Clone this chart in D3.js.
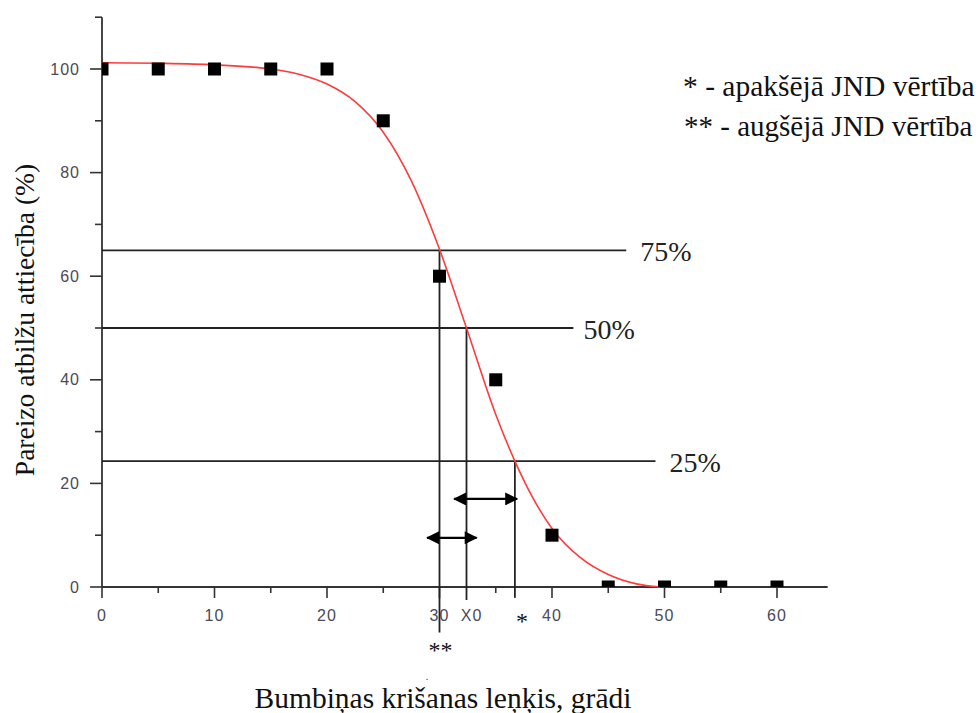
<!DOCTYPE html>
<html><head><meta charset="utf-8">
<script src="https://cdn.jsdelivr.net/npm/d3@7"></script>
<style>body{margin:0;background:#fff}svg{display:block}</style>
</head><body><svg id="c" width="979" height="713"></svg>
<script>
// measured points
const angles = [0, 5, 10, 15, 20, 25, 30, 35, 40, 45, 50, 55, 60];
const correct = [100, 100, 100, 100, 100, 90, 60, 40, 10, 0, 0, 0, 0];
// fitted curve
const fitX = [0, 5, 10, 15, 17.5, 20, 22.5, 25, 27.5, 30, 32.4, 35, 36.7, 38.3, 40, 42.5, 45, 47.5, 49.6];
const fitY = [101.2, 101.1, 100.8, 100.0, 99.0, 97.1, 93.7, 87.8, 78.4, 65.2, 50, 33.3, 24.3, 17.2, 11.3, 5.7, 2.4, 0.6, 0];
// tick labels
const xTickVals = [0, 10, 20, 30, 40, 50, 60];
const xTickLabels = ["0", "10", "20", "30", "40", "50", "60"];
const yTickVals = [0, 20, 40, 60, 80, 100];
// threshold annotations
const levelLabels = ["75%", "50%", "25%"];
const levelY = [65, 50, 24.3];
const levelEndX = [46.6, 41.9, 49.2];
const crossX = [30, 32.4, 36.7];
const crossBottom = [-8.8, -2.5, -2.1];
const arrowsY = [17, 9.5];
const arrowsFrom = [31.3, 28.9];
const arrowsTo = [36.9, 33.3];
const legendLines = ["* - apak\u0161\u0113j\u0101 JND v\u0113rt\u012Bba", "** - aug\u0161\u0113j\u0101 JND v\u0113rt\u012Bba"];
const xTitle = "Bumbi\u0146as kri\u0161anas le\u0146\u0137is, gr\u0101di";
const yTitle = "Pareizo atbil\u017Eu attiec\u012Bba (%)";

const svg = d3.select("#c");
const x = d3.scaleLinear().domain([0, 60]).range([102, 777]);
const y = d3.scaleLinear().domain([0, 100]).range([587, 69]);
const xMax = 64.5, yMax = 110;
const axisColor = "#333";
const serif = "Liberation Serif";
const sans = "Liberation Sans";

svg.append("defs").append("clipPath").attr("id", "plot")
  .append("rect").attr("x", x(0)).attr("y", y(yMax)).attr("width", x(xMax) - x(0)).attr("height", y(0) - y(yMax));
const m = svg.append("defs").append("marker").attr("id", "ah")
  .attr("viewBox", "0 0 12 12").attr("refX", 11).attr("refY", 6)
  .attr("markerWidth", 14).attr("markerHeight", 13).attr("markerUnits", "userSpaceOnUse")
  .attr("orient", "auto-start-reverse");
m.append("path").attr("d", "M0,0L12,6L0,12Z").attr("fill", "#000");

// axes
const yAxisG = svg.append("g").attr("transform", `translate(${x(0)},0)`);
yAxisG.append("line").attr("y1", y(yMax)).attr("y2", y(0)).attr("stroke", axisColor).attr("stroke-width", 1.8);
const yMinor = d3.range(10, 111, 20);
yAxisG.selectAll(".ymin").data(yMinor).join("line")
  .attr("x1", -7).attr("x2", 0).attr("y1", d => y(d)).attr("y2", d => y(d)).attr("stroke", axisColor).attr("stroke-width", 1.6);
yAxisG.selectAll(".ymaj").data(yTickVals).join("line")
  .attr("x1", -12).attr("x2", 0).attr("y1", d => y(d)).attr("y2", d => y(d)).attr("stroke", axisColor).attr("stroke-width", 1.6);
yAxisG.selectAll(".ylab").data(yTickVals).join("text")
  .attr("x", -22).attr("y", d => y(d)).attr("dy", "0.35em").attr("text-anchor", "end")
  .attr("font-family", sans).attr("font-size", 16).attr("letter-spacing", 1).attr("fill", "#4a4a58").text(d => d);

const xAxisG = svg.append("g").attr("transform", `translate(0,${y(0)})`);
xAxisG.append("line").attr("x1", x(0)).attr("x2", x(xMax)).attr("stroke", axisColor).attr("stroke-width", 1.8);
const xMinor = d3.range(5, 61, 10);
xAxisG.selectAll(".xmin").data(xMinor).join("line")
  .attr("x1", d => x(d)).attr("x2", d => x(d)).attr("y1", 0).attr("y2", 6).attr("stroke", axisColor).attr("stroke-width", 1.6);
xAxisG.selectAll(".xmaj").data(xTickVals).join("line")
  .attr("x1", d => x(d)).attr("x2", d => x(d)).attr("y1", 0).attr("y2", 11).attr("stroke", axisColor).attr("stroke-width", 1.6);
xAxisG.selectAll(".xlab").data(xTickVals).join("text")
  .attr("x", d => x(d)).attr("y", 34).attr("text-anchor", "middle")
  .attr("font-family", sans).attr("font-size", 16).attr("letter-spacing", 1).attr("fill", "#4a4a58").text((d, i) => xTickLabels[i]);
xAxisG.append("text").attr("x", x(32.4) + 5).attr("y", 34).attr("text-anchor", "middle")
  .attr("font-family", sans).attr("font-size", 16).attr("letter-spacing", 1).attr("fill", "#4a4a58").text("X0");

// threshold lines
const labelOffsets = [14, 10, 14];
levelY.forEach((lv, i) => {
  svg.append("line").attr("x1", x(0)).attr("x2", x(levelEndX[i])).attr("y1", y(lv)).attr("y2", y(lv))
    .attr("stroke", "#222").attr("stroke-width", 1.8);
  svg.append("text").attr("x", x(levelEndX[i]) + labelOffsets[i]).attr("y", y(lv) + 11)
    .attr("font-family", serif).attr("font-size", 28).attr("fill", "#222").text(levelLabels[i]);
});
crossX.forEach((cx, i) => {
  svg.append("line").attr("x1", x(cx)).attr("x2", x(cx)).attr("y1", y(levelY[i])).attr("y2", y(crossBottom[i]))
    .attr("stroke", "#222").attr("stroke-width", 1.8);
});
arrowsY.forEach((ay, i) => {
  svg.append("line").attr("x1", x(arrowsFrom[i])).attr("x2", x(arrowsTo[i])).attr("y1", y(ay)).attr("y2", y(ay))
    .attr("stroke", "#000").attr("stroke-width", 2.2)
    .attr("marker-start", "url(#ah)").attr("marker-end", "url(#ah)");
});

// curve
const line = d3.line().x(d => x(d[0])).y(d => y(d[1])).curve(d3.curveMonotoneX);
svg.append("path").datum(fitX.map((v, i) => [v, fitY[i]])).attr("d", line)
  .attr("fill", "none").attr("stroke", "#ff3b3b").attr("stroke-width", 1.6);

// points
svg.append("g").attr("clip-path", "url(#plot)").selectAll("rect").data(angles).join("rect")
  .attr("x", d => x(d) - 6.5).attr("y", (d, i) => y(correct[i]) - 6.5)
  .attr("width", 13).attr("height", 13).attr("fill", "#000");

// star annotations
svg.append("text").attr("x", x(36.7) + 7).attr("y", 629).attr("text-anchor", "middle")
  .attr("font-family", serif).attr("font-size", 24).attr("fill", "#111").text("*");
svg.append("text").attr("x", x(30) + 1).attr("y", 658).attr("text-anchor", "middle")
  .attr("font-family", serif).attr("font-size", 24).attr("fill", "#111").text("**");
svg.append("text").attr("x", 427).attr("y", 680).attr("text-anchor", "middle")
  .attr("font-family", serif).attr("font-size", 10).attr("fill", "#333").text(".");

// legend
legendLines.forEach((t, i) => {
  svg.append("text").attr("x", i === 0 ? 683 : 684).attr("y", 96 + i * 40)
    .attr("font-family", serif).attr("font-size", i === 0 ? 29.5 : 29).attr("fill", "#111").text(t);
});

// titles
svg.append("text").attr("x", 443).attr("y", 708).attr("text-anchor", "middle")
  .attr("font-family", serif).attr("font-size", 29.5).attr("fill", "#111").text(xTitle);
svg.append("text").attr("transform", "translate(34,320) rotate(-90)").attr("text-anchor", "middle")
  .attr("font-family", serif).attr("font-size", 27.5).attr("fill", "#111").text(yTitle);
</script></body></html>
